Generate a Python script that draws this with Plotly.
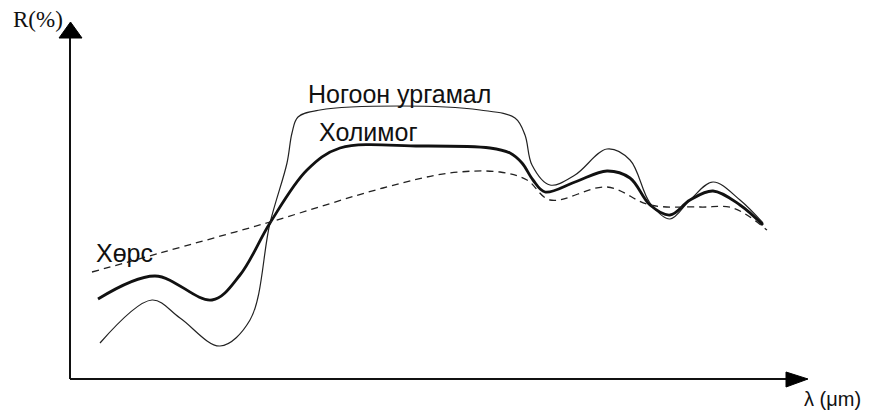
import plotly.graph_objects as go

# Schematic spectral reflectance curves (arbitrary units: λ along x, R along y)
veg_lambda = [30, 82, 110, 150, 180, 200, 217, 222, 228, 250, 330, 410, 445, 455, 462, 480, 505, 537, 560, 580, 600, 620, 643, 670, 693]
veg_R = [36, 79, 61, 33, 59, 156, 216, 246, 262, 269, 273, 269, 261, 244, 214, 194, 204, 230, 219, 176, 160, 179, 197, 179, 156]

mix_lambda = [28, 85, 142, 170, 200, 237, 270, 350, 420, 440, 452, 463, 475, 505, 537, 560, 580, 600, 620, 643, 670, 693]
mix_R = [80, 103, 79, 104, 156, 209, 231, 233, 231, 226, 216, 199, 187, 197, 208, 201, 174, 164, 179, 188, 174, 154]

soil_lambda = [22, 90, 200, 313, 380, 430, 457, 480, 537, 580, 630, 663, 697]
soil_R = [107, 126, 157, 191, 206, 207, 199, 179, 192, 174, 172, 171, 149]

label_veg = "Ногоон ургамал"
label_mix = "Холимог"
label_soil = "Хөрс"
y_title = "R(%)"
x_title = "λ (μm)"

fig = go.Figure()
fig.add_trace(go.Scatter(x=veg_lambda, y=veg_R, mode="lines",
                         line=dict(color="#222", width=1.2, shape="spline", smoothing=1.0),
                         showlegend=False, hoverinfo="skip"))
fig.add_trace(go.Scatter(x=mix_lambda, y=mix_R, mode="lines",
                         line=dict(color="#111", width=2.8, shape="spline", smoothing=1.0),
                         showlegend=False, hoverinfo="skip"))
fig.add_trace(go.Scatter(x=soil_lambda, y=soil_R, mode="lines",
                         line=dict(color="#222", width=1.3, shape="spline", smoothing=1.0, dash="7px,5px"),
                         showlegend=False, hoverinfo="skip"))

# Axes with arrowheads
fig.add_shape(type="line", x0=0, y0=0, x1=0, y1=341, line=dict(color="#111", width=2))
fig.add_shape(type="line", x0=0, y0=0, x1=716, y1=0, line=dict(color="#111", width=2))
fig.add_shape(type="path", path="M -11,341 L 12,341 L 0.5,357 Z", fillcolor="#000", line=dict(color="#000", width=1))
fig.add_shape(type="path", path="M 716,7 L 716,-8 L 738,0 Z", fillcolor="#000", line=dict(color="#000", width=1))

sans = "Liberation Sans, Arial, sans-serif"
fig.add_annotation(x=329, y=285, text=label_veg, showarrow=False, font=dict(family=sans, size=25, color="#111"))
fig.add_annotation(x=298, y=247, text=label_mix, showarrow=False, font=dict(family=sans, size=25, color="#111"))
fig.add_annotation(x=54, y=126, text=label_soil, showarrow=False, font=dict(family=sans, size=25, color="#111"))
fig.add_annotation(x=-32, y=360, text=y_title, showarrow=False,
                   font=dict(family="Liberation Serif, Times New Roman, serif", size=23, color="#111"))
fig.add_annotation(x=762, y=-20, text=x_title, showarrow=False, font=dict(family=sans, size=20, color="#111"))

# The page body adds an 8px margin, so the figure is 8px smaller and ranges compensate
fig.update_xaxes(range=[-62, 807], visible=False, fixedrange=True)
fig.update_yaxes(range=[-34, 371], visible=False, fixedrange=True)
fig.update_layout(width=869, height=405, margin=dict(l=0, r=0, t=0, b=0),
                  plot_bgcolor="white", paper_bgcolor="white")

fig.write_html("out.html")
